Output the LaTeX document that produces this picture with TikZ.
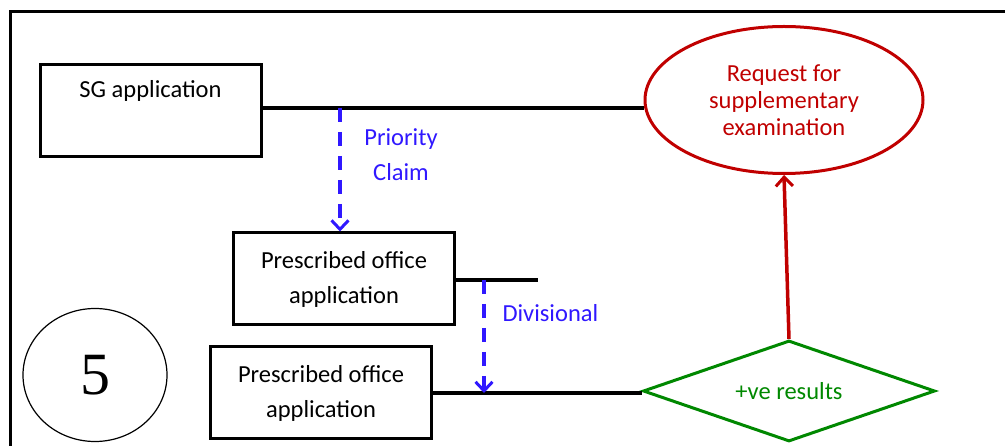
\documentclass[tikz,border=0pt]{standalone}
\usepackage{fontspec}
\setmainfont{Carlito}
\newfontfamily\numfont{Liberation Serif}
\usetikzlibrary{arrows.meta,shapes.geometric}
\definecolor{pBlue}{RGB}{48,24,255}
\definecolor{pRed}{RGB}{192,0,0}
\definecolor{pGreen}{RGB}{0,136,0}
\tikzset{
    appbox/.style={draw, line width=3pt, minimum width=221pt, minimum height=92pt, inner sep=0pt, align=center, font=\fontsize{24.5}{35}\selectfont},
    link/.style={line width=3.5pt},
    claim/.style={line width=3.5pt, pBlue, dash pattern=on 14pt off 10pt, -{Straight Barb[length=9pt,width=17pt,line width=3pt]}},
    claimlbl/.style={pBlue, align=center, font=\fontsize{24.5}{35}\selectfont},
    upshot/.style={line width=3.5pt, pRed, -{Straight Barb[length=9pt,width=17pt,line width=3pt]}}
}

\begin{document}
\begin{tikzpicture}[x=1pt,y=-1pt]
\useasboundingbox (0,0) rectangle (1005,446);
\draw[line width=3pt] (10,460) -- (10,12) -- (1020,12);
\node[draw, ellipse, line width=1.2pt, minimum width=144pt, minimum height=133pt, inner sep=0pt, font=\numfont\fontsize{60}{60}\selectfont] (five) at (95,375) {5};
\node[appbox] (sg) at (150.5,111) {SG application\\[9pt]~};
\node[appbox] (po) at (344,279) {Prescribed office\\application};
\node[appbox] (dv) at (321,393) {Prescribed office\\application};
\node[draw, ellipse, pRed, line width=3pt, minimum width=278pt, minimum height=147pt, inner sep=0pt, align=center, font=\fontsize{24.5}{27}\selectfont] (req) at (784,100) {Request for\\supplementary\\examination};
\node[draw, diamond, aspect=2.9, pGreen, line width=3pt, minimum width=292pt, minimum height=101pt, inner sep=0pt, font=\fontsize{24.5}{27}\selectfont] (res) at (789,391) {+ve results};
\coordinate (stub) at (538,280);
\coordinate (pc) at (340,108);
\coordinate (dc) at (484,280);
\draw[link] (sg.east |- pc) -- (req.west |- pc);
\draw[link] (po.east |- stub) -- (stub);
\draw[link] (dv.east) -- (res.west |- dv.east);
\draw[claim] (pc) -- (pc |- po.north);
\draw[claim] (dc) -- (dc |- dv.east);
\draw[upshot] (res.north) -- (req.south);
\node[claimlbl] (prio) at (401,155) {Priority\\Claim};
\node[claimlbl, anchor=west] (divl) at (499,313) {Divisional};
\end{tikzpicture}
\end{document}
